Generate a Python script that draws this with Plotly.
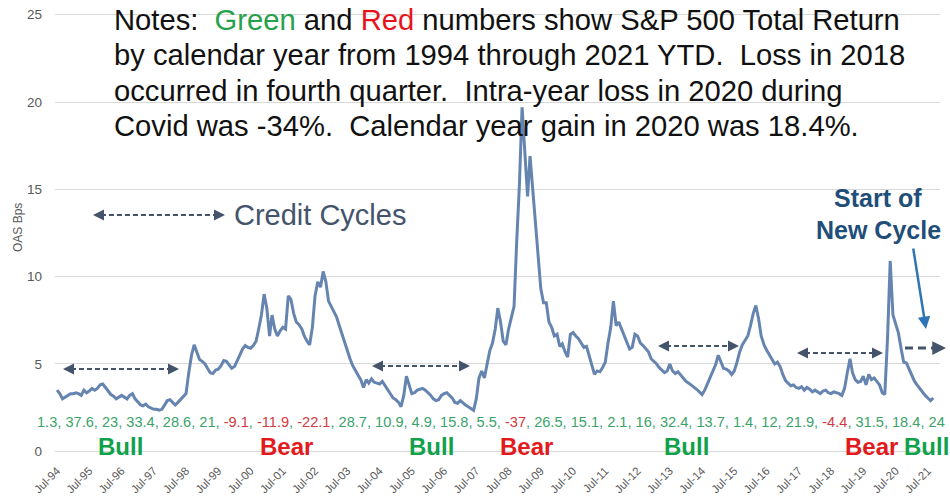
import pandas as pd
import plotly.graph_objects as go

# High-yield option-adjusted spread (%), monthly from Jul-1994 to Sep-2021
start_month = "1994-07-01"
oas_spread = [
    3.5, 3.3, 3.0, 3.1, 3.25, 3.3,                                   # 1994 (Jul-Dec)
    3.3, 3.35, 3.3, 3.2, 3.5, 3.35, 3.45, 3.6, 3.5, 3.6, 3.8, 3.85,   # 1995
    3.65, 3.45, 3.25, 3.15, 3.0, 3.1, 3.2, 3.1, 3.0, 3.2, 3.3, 3.0,   # 1996
    2.85, 2.65, 2.6, 2.7, 2.55, 2.45, 2.4, 2.4, 2.35, 2.4, 2.65, 2.9, # 1997
    2.95, 2.8, 2.65, 2.8, 2.95, 3.15, 3.3, 4.5, 5.5, 6.1, 5.6, 5.25,  # 1998
    5.15, 5.0, 4.75, 4.5, 4.45, 4.65, 4.7, 4.9, 5.2, 5.15, 4.95, 4.75, # 1999
    4.85, 5.15, 5.5, 5.85, 6.05, 5.95, 5.9, 6.05, 6.3, 7.0, 7.8, 9.0,  # 2000
    8.2, 6.6, 7.8, 7.0, 6.6, 6.9, 7.1, 7.0, 8.9, 8.7, 7.9, 7.4,       # 2001
    7.25, 7.0, 6.6, 6.3, 6.1, 7.1, 8.9, 9.7, 9.4, 10.3, 9.7, 8.6,     # 2002
    8.3, 8.05, 7.7, 7.2, 6.7, 6.3, 5.8, 5.3, 4.9, 4.6, 4.35, 4.1,     # 2003
    3.65, 4.1, 3.9, 4.15, 3.95, 3.9, 3.85, 4.0, 3.75, 3.5, 3.25, 3.05, # 2004
    2.95, 2.8, 2.55, 3.2, 4.3, 3.75, 3.3, 3.35, 3.5, 3.55, 3.6, 3.5,  # 2005
    3.35, 3.2, 3.0, 2.9, 2.95, 3.2, 3.3, 3.35, 3.2, 3.05, 2.8, 2.75,  # 2006
    2.9, 2.75, 2.65, 2.55, 2.45, 2.35, 3.0, 4.2, 4.6, 4.2, 5.0, 5.75, # 2007
    6.2, 7.0, 8.2, 7.4, 6.3, 6.1, 7.0, 7.6, 8.3, 12.0, 15.3, 19.7,    # 2008
    17.3, 14.6, 16.9, 15.0, 13.3, 11.4, 9.3, 8.5, 8.5, 7.4, 7.1, 6.6, # 2009
    6.7, 6.0, 6.15, 5.7, 5.4, 6.7, 6.8, 6.6, 6.45, 6.2, 5.95, 6.0,    # 2010
    5.4, 4.8, 4.4, 4.6, 4.55, 4.8, 5.1, 6.2, 7.1, 8.6, 7.2, 7.4,      # 2011
    7.0, 6.6, 6.3, 5.85, 5.95, 6.7, 6.6, 6.2, 6.05, 5.9, 5.7, 5.3,    # 2012
    5.15, 5.0, 4.8, 4.65, 4.5, 4.6, 5.0, 4.6, 4.45, 4.55, 4.35, 4.2,  # 2013
    4.0, 3.9, 3.8, 3.7, 3.55, 3.4, 3.25, 3.5, 3.85, 4.2, 4.6, 4.95,   # 2014
    5.5, 5.1, 4.75, 4.7, 4.6, 4.4, 4.6, 5.1, 5.7, 6.1, 6.4, 6.6,      # 2015
    7.2, 7.9, 8.35, 7.6, 6.6, 6.1, 5.8, 5.5, 5.2, 5.0, 5.1, 4.85,     # 2016
    4.4, 4.05, 3.9, 3.75, 3.8, 3.65, 3.6, 3.7, 3.5, 3.65, 3.55, 3.4,  # 2017
    3.5, 3.4, 3.3, 3.45, 3.5, 3.35, 3.3, 3.4, 3.35, 3.3, 3.2, 3.6,    # 2018
    4.5, 5.3, 4.5, 4.1, 3.95, 4.0, 4.3, 3.8, 4.4, 4.1, 4.2, 4.0,      # 2019
    3.8, 3.35, 3.25, 6.5, 10.9, 7.8, 7.3, 6.8, 5.9, 5.1, 5.05, 4.7,   # 2020
    4.3, 4.0, 3.8, 3.6, 3.35, 3.2, 3.05, 2.9, 3.05,                   # 2021 (Jan-Sep)
]

# S&P 500 total return by calendar year (%)
sp500_years = list(range(1994, 2022))
sp500_returns = [1.3, 37.6, 23, 33.4, 28.6, 21, -9.1, -11.9, -22.1, 28.7, 10.9,
                 4.9, 15.8, 5.5, -37, 26.5, 15.1, 2.1, 16, 32.4, 13.7, 1.4, 12,
                 21.9, -4.4, 31.5, 18.4, 24]

# Axis ticks
tick_years = list(range(1994, 2022))
tick_labels = [f"Jul-{y % 100:02d}" for y in tick_years]
y_ticks = [0, 5, 10, 15, 20, 25]

# Market regime labels: (text, kind, centre x in px)
regimes = [("Bull", "bull", 120), ("Bear", "bear", 286), ("Bull", "bull", 431),
           ("Bear", "bear", 526), ("Bull", "bull", 686), ("Bear", "bear", 871),
           ("Bull", "bull", 926)]

W, H = 950, 502
PL, PR, PT, PB = 55, 940, 13, 453
FONT = "Arial, 'Liberation Sans', sans-serif"

GREEN_NUM, RED_NUM = "#3aa36a", "#d13a40"
BULL, BEAR = "#12a14b", "#e31a1c"
SLATE = "#44546a"


def px(x):
    return (x - PL) / (PR - PL)


def py(y):
    return (PB - y) / (PB - PT)


dates = pd.date_range(start_month, periods=len(oas_spread), freq="MS")

fig = go.Figure()
fig.add_trace(go.Scatter(
    x=dates, y=oas_spread, mode="lines",
    line=dict(color="#6585b0", width=3),
    hoverinfo="skip", showlegend=False,
))

ann = []

# Notes block
notes = [
    "Notes:\u00a0\u00a0<span style='color:#27a24c'>Green</span> and "
    "<span style='color:#e8141c'>Red</span> numbers show S&amp;P 500 Total Return",
    "by calendar year from 1994 through 2021 YTD.\u00a0\u00a0Loss in 2018",
    "occurred in fourth quarter.\u00a0\u00a0Intra-year loss in 2020 during",
    "Covid was -34%.\u00a0\u00a0Calendar year gain in 2020 was 18.4%.",
]
for i, line in enumerate(notes):
    ann.append(dict(text=line, x=px(112), y=py(20 + 35.5 * i), xref="paper", yref="paper",
                    xanchor="left", yanchor="middle", showarrow=False,
                    font=dict(family=FONT, size=29.2, color="#111111")))

# S&P 500 return row
parts = []
for v in sp500_returns:
    c = GREEN_NUM if v >= 0 else RED_NUM
    parts.append(f"<span style='color:{c}'>{v:g}</span>")
returns_text = f"<span style='color:{GREEN_NUM}'>, </span>".join(parts)
ann.append(dict(text=returns_text, x=px(491), y=py(422), xref="paper", yref="paper",
                xanchor="center", yanchor="middle", showarrow=False,
                font=dict(family=FONT, size=14.6, color=GREEN_NUM)))

# Bull / Bear labels
for text, kind, cx in regimes:
    ann.append(dict(text=f"<b>{text}</b>", x=px(cx), y=py(446), xref="paper", yref="paper",
                    xanchor="center", yanchor="middle", showarrow=False,
                    font=dict(family=FONT, size=24, color=BULL if kind == "bull" else BEAR)))

# Credit cycles label
ann.append(dict(text="Credit Cycles", x=px(232), y=py(215), xref="paper", yref="paper",
                xanchor="left", yanchor="middle", showarrow=False,
                font=dict(family=FONT, size=29, color=SLATE)))

# Start of new cycle label
for txt, yy in (("Start of", 198), ("New Cycle", 230)):
    ann.append(dict(text=f"<b>{txt}</b>", x=px(878), y=py(yy), xref="paper", yref="paper",
                    xanchor="center", yanchor="middle", showarrow=False,
                    font=dict(family=FONT, size=25, color="#1f4e79")))

# Y axis title
ann.append(dict(text="OAS Bps", x=px(18), y=py(228), xref="paper", yref="paper",
                xanchor="center", yanchor="middle", showarrow=False, textangle=-90,
                font=dict(family=FONT, size=12, color="#595959")))

# Dashed cycle arrows: (x0, x1, y, both_heads)
cycle_arrows = [(93, 225, 215, True), (63, 179, 369, True), (372, 470, 366, True),
                (658, 739, 346, True), (797, 883, 353, True), (905, 946, 348, False)]
shapes = []
for x0, x1, yy, both in cycle_arrows:
    head = 8
    shapes.append(dict(type="line", xref="paper", yref="paper",
                       x0=px(x0 + (head if both else 0)), x1=px(x1 - head),
                       y0=py(yy), y1=py(yy),
                       line=dict(color=SLATE, width=2 if both else 3,
                                 dash="5px,3px" if both else "8px,5px")))
    ann.append(dict(x=px(x1), y=py(yy), xref="paper", yref="paper", text="",
                    showarrow=True, ax=-head - 2, ay=0, arrowhead=2, arrowsize=1.1,
                    arrowwidth=2 if both else 2.5, arrowcolor=SLATE))
    if both:
        ann.append(dict(x=px(x0), y=py(yy), xref="paper", yref="paper", text="",
                        showarrow=True, ax=head + 2, ay=0, arrowhead=2, arrowsize=1.1,
                        arrowwidth=2, arrowcolor=SLATE))

# Pointer to the new cycle
ann.append(dict(x=px(926), y=py(329), xref="paper", yref="paper", text="",
                showarrow=True, ax=-13, ay=-82, arrowhead=2, arrowsize=1.0,
                arrowwidth=2.5, arrowcolor="#2e75b6"))

fig.update_layout(
    width=W, height=H,
    margin=dict(l=PL, r=W - PR, t=PT, b=H - PB, autoexpand=False),
    paper_bgcolor="white", plot_bgcolor="white",
    font=dict(family=FONT),
    showlegend=False,
    xaxis=dict(type="date", range=["1994-06-08", "2021-11-16"],
               tickvals=[f"{y}-07-01" for y in tick_years], ticktext=tick_labels,
               tickangle=-45, tickfont=dict(size=11.5, color="#595959"),
               showgrid=False, zeroline=False, showline=False, ticks="",
               ticklabelstandoff=8, automargin=False),
    yaxis=dict(range=[-0.1, 25.1], tickvals=y_ticks,
               showgrid=True, gridcolor="#d9d9d9", gridwidth=1,
               zeroline=False, showline=False, ticks="",
               tickfont=dict(size=13.5, color="#595959"),
               ticklabelstandoff=12, automargin=False),
    annotations=ann, shapes=shapes,
)

fig.write_html("out.html")
